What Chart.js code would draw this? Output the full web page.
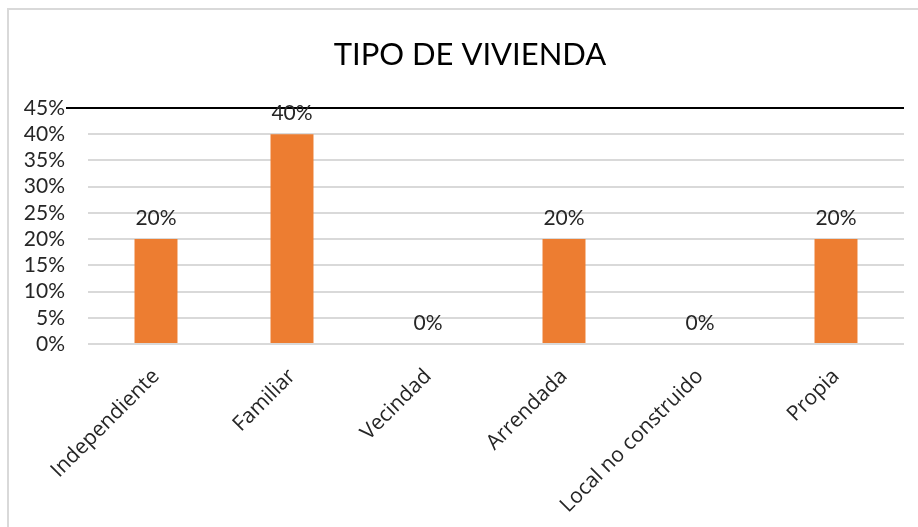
<!DOCTYPE html>
<html>
<head>
<meta charset="utf-8">
<script src="https://cdn.jsdelivr.net/npm/chart.js@4.4.0/dist/chart.umd.min.js"></script>
<style>
    html, body { margin: 0; padding: 0; background: #fff; }
    #wrap { width: 918px; height: 527px; position: relative; }
</style>
</head>
<body>
<div id="wrap"><canvas id="grafico"></canvas></div>
<script>
const categorias = ['Independiente', 'Familiar', 'Vecindad', 'Arrendada', 'Local no construido', 'Propia'];
const valores = [20, 40, 0, 20, 0, 20];
const titulo = 'TIPO DE VIVIENDA';

const corBarra = '#ED7D31';
const corTexto = '#262626';
const corGrade = '#d9d9d9';

const pct = v => v + '%';

// borda do quadro, título, linha preta no topo e rótulos de dados
const molduraPlugin = {
    id: 'moldura',
    beforeDraw(chart) {
        const ctx = chart.ctx;
        ctx.save();
        ctx.strokeStyle = corGrade;
        ctx.lineWidth = 2;
        ctx.strokeRect(8, 9, 1000, 1000);

        ctx.fillStyle = '#000';
        ctx.font = '31px Lato';
        ctx.textAlign = 'center';
        ctx.textBaseline = 'middle';
        ctx.fillText(titulo, 470, 55);
        ctx.restore();
    },
    afterDatasetsDraw(chart) {
        const ctx = chart.ctx;
        const y = chart.scales.y.getPixelForValue(45);
        ctx.save();
        ctx.strokeStyle = '#000';
        ctx.lineWidth = 2;
        ctx.beginPath();
        ctx.moveTo(66, y);
        ctx.lineTo(chart.chartArea.right, y);
        ctx.stroke();

        ctx.fillStyle = corTexto;
        ctx.font = '21px Lato';
        ctx.textAlign = 'center';
        ctx.textBaseline = 'middle';
        const meta = chart.getDatasetMeta(0);
        meta.data.forEach((bar, i) => {
            ctx.fillText(pct(valores[i]), bar.x, bar.y - 21);
        });
        ctx.restore();
    }
};

new Chart(document.getElementById('grafico'), {
    type: 'bar',
    data: {
        labels: categorias,
        datasets: [{
            data: valores,
            backgroundColor: corBarra,
            barPercentage: 0.316,
            categoryPercentage: 1
        }]
    },
    options: {
        responsive: true,
        maintainAspectRatio: false,
        animation: false,
        layout: { padding: { top: 108, right: 14, left: 0, bottom: 0 } },
        plugins: {
            legend: { display: false },
            tooltip: { enabled: false },
            title: { display: false }
        },
        scales: {
            x: {
                grid: { display: false },
                border: { display: false },
                ticks: {
                    color: corTexto,
                    font: { family: 'Open Sans', size: 21 },
                    minRotation: 45,
                    maxRotation: 45,
                    autoSkip: false,
                    padding: 12
                },
                afterFit: scale => { scale.height = 183; }
            },
            y: {
                min: 0,
                max: 45,
                border: { display: false },
                grid: { color: corGrade, lineWidth: 2, drawTicks: false },
                ticks: {
                    stepSize: 5,
                    autoSkip: false,
                    color: corTexto,
                    font: { family: 'Lato', size: 21 },
                    padding: 23,
                    callback: value => pct(value)
                },
                afterFit: scale => { scale.width = 88; }
            }
        }
    },
    plugins: [molduraPlugin]
});
</script>
</body>
</html>
